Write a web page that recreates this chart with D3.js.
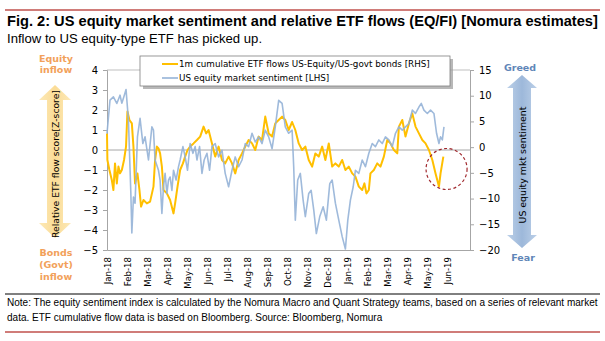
<!DOCTYPE html>
<html>
<head>
<meta charset="utf-8">
<script src="https://cdn.jsdelivr.net/npm/d3@7"></script>
<style>
  body { margin: 0; background: #fff; }
  svg { display: block; }
  text { font-family: "DejaVu Sans", Verdana, sans-serif; }
  .arial { font-family: "Liberation Sans", Arial, sans-serif; }
</style>
</head>
<body>
<svg id="chart" width="605" height="341"></svg>
<script>
// month labels on the date axis (Jan-18 = 0)
const months = ["Jan-18","Feb-18","Mar-18","Apr-18","May-18","Jun-18","Jul-18","Aug-18","Sep-18",
  "Oct-18","Nov-18","Dec-18","Jan-19","Feb-19","Mar-19","Apr-19","May-19","Jun-19"];
const leftTicks = [4, 3, 2, 1, 0, -1, -2, -3, -4, -5];
const rightTicks = [15, 10, 5, 0, -5, -10, -15, -20];

// ETF flow z-score (left scale), time in months since Jan-18
const flowT = [0,0.02,0.12,0.24,0.32,0.40,0.49,0.57,0.65,0.74,0.85,0.95,1.02,1.12,1.24,1.32,1.40,1.52,1.62,1.70,
  1.82,1.99,2.15,2.32,2.40,2.49,2.57,2.65,2.74,2.82,2.99,3.15,3.32,3.40,3.52,3.65,3.79,3.90,4.02,4.15,
  4.32,4.49,4.65,4.82,4.95,5.07,5.24,5.40,5.57,5.74,5.90,6.07,6.24,6.40,6.57,6.74,6.90,7.07,7.24,7.40,
  7.57,7.74,7.90,8.07,8.24,8.40,8.57,8.74,8.90,9.07,9.24,9.40,9.57,9.74,9.90,10.07,10.24,10.40,10.57,10.74,
  10.90,11.07,11.24,11.40,11.57,11.74,11.90,12.07,12.24,12.40,12.57,12.74,12.85,12.95,13.07,13.15,13.32,13.49,13.65,13.82,
  13.99,14.15,14.32,14.49,14.57,14.74,14.90,15.07,15.24,15.40,15.57,15.74,15.90,16.07,16.24,16.40,16.57,16.65,16.79];
const flowV = [0.83,-0.5,-1.0,-1.5,-2.0,-0.67,-1.67,-0.83,-1.17,-1.0,-0.5,0.17,1.92,1.5,1.33,0.17,-1.67,-1.17,-2.0,-2.83,
  -2.5,-2.67,-2.58,-1.83,-0.5,0.17,0.08,-0.17,-0.83,-2.0,-2.17,-2.5,-3.17,-2.67,-1.83,-1.0,-0.67,-0.33,0,0.17,
  0.33,0.5,0.67,1.17,0.83,1.0,0.33,-0.33,0.17,-0.5,-0.67,-0.33,-0.67,-1.17,-0.5,-0.17,0.17,0.5,0.33,0,
  0.67,0.5,1.67,0.83,0.67,1.33,1.5,1.67,1.5,1.0,1.4,1.0,0.33,0,0.17,-0.5,-0.83,-0.17,-0.33,0.17,
  -0.5,0.33,-0.83,-0.67,-0.83,-0.5,-1.0,-0.83,-1.17,-1.33,-1.83,-2.0,-1.67,-2.17,-2.0,-1.17,-1.0,-0.67,-0.83,-0.33,
  0.5,0.33,0,-0.17,1.17,1.5,0.67,1.33,1.83,1.17,0.83,0.5,0.33,0,-0.5,-1.17,-1.83,-1.17,-0.33];

// US equity market sentiment (right scale)
const sentT = [0,0.15,0.32,0.49,0.65,0.74,0.85,0.95,1.07,1.19,1.24,1.32,1.40,1.52,1.65,1.79,1.90,2.07,2.24,2.32,
  2.40,2.57,2.65,2.74,2.82,2.90,2.99,3.07,3.15,3.24,3.32,3.45,3.57,3.65,3.79,3.90,4.02,4.15,4.29,4.40,
  4.49,4.62,4.74,4.85,4.99,5.12,5.24,5.40,5.57,5.74,5.90,6.07,6.24,6.40,6.57,6.74,6.90,7.07,7.24,7.40,
  7.57,7.74,7.90,8.07,8.24,8.40,8.57,8.74,8.90,9.07,9.24,9.32,9.40,9.52,9.65,9.79,9.90,10.07,10.19,10.32,
  10.45,10.62,10.79,10.95,11.12,11.24,11.40,11.57,11.74,11.90,12.02,12.15,12.29,12.40,12.57,12.74,12.90,13.07,13.24,13.40,
  13.57,13.74,13.90,14.07,14.24,14.40,14.57,14.74,14.90,15.07,15.24,15.40,15.57,15.69,15.82,15.99,16.15,16.32,16.45,16.57,
  16.65,16.74,16.82];
const sentV = [2.66,9.14,9.78,8.5,10.1,8.55,9.9,11.2,5.25,-8.9,-16.7,-9.7,-10.9,2.0,5.6,0.7,2.0,-2.5,3.95,3.3,
  -2.5,-4.5,-6.4,-12.9,-7.7,-5.1,-9.0,-6.4,-5.8,-8.4,-4.5,-6.4,-3.8,-2.5,0.1,-1.9,-4.5,0.7,-1.2,0.1,
  -2.5,0.1,-5.1,-2.5,-1.2,-4.5,0.1,0.7,-1.9,-0.6,-5.1,-7.7,-4.5,-1.9,-3.8,-2.5,0.7,0.1,2.7,1.0,
  2.0,0.7,3.3,2.0,-0.3,3.95,9.1,8.5,3.95,2.7,3.3,-3.8,-14.2,-6.4,-5.1,-10.3,-13.5,-9.0,-8.4,-12.2,
  -16.8,-13.5,-11.6,-14.2,-7.1,-6.4,-10.9,-14.2,-17.4,-19.8,-14.2,-10.3,-7.7,-4.5,-5.1,-2.5,-3.8,-1.2,0.7,0.1,
  1.4,0.7,2.0,1.4,0.1,2.7,3.95,3.3,3.95,4.6,7.2,6.55,7.8,8.5,7.2,6.55,7.2,6.55,2.7,0.7,
  2.0,1.4,3.95];

const flow = flowT.slice(0, Math.min(flowT.length, flowV.length)).map((t, i) => ({ t: t, v: flowV[i] }));
const sent = sentT.slice(0, Math.min(sentT.length, sentV.length)).map((t, i) => ({ t: t, v: sentV[i] }));

const svg = d3.select("#chart");

const x = d3.scaleLinear().domain([0, 18.12]).range([107, 470]);
const yL = d3.scaleLinear().domain([-5, 4]).range([250, 70]);
const yR = d3.scaleLinear().domain([-20, 15]).range([250, 70]);

// shrink/grow a text so that it spans a given width
function fit(sel, target) {
  const w = sel.node().getComputedTextLength();
  const fs = parseFloat(sel.attr("font-size"));
  sel.attr("font-size", (fs * target / w).toFixed(2));
}

// header
svg.append("line").attr("x1", 5).attr("x2", 600).attr("y1", 10).attr("y2", 10)
  .attr("stroke", "#C0504D").attr("stroke-width", 1.3);
const title = svg.append("text").attr("class", "arial").attr("x", 7).attr("y", 26)
  .attr("font-size", 13).attr("font-weight", "bold").attr("fill", "#000")
  .text("Fig. 2: US equity market sentiment and relative ETF flows (EQ/FI) [Nomura estimates]");
fit(title, 591);
const sub = svg.append("text").attr("class", "arial").attr("x", 7).attr("y", 43)
  .attr("font-size", 11).attr("fill", "#000")
  .text("Inflow to US equity-type ETF has picked up.");
fit(sub, 255);

// arrows
function arrowPath(cx, y1, y2, sw, hw, hl) {
  return `M${cx},${y1}L${cx + hw},${y1 + hl}L${cx + sw},${y1 + hl}L${cx + sw},${y2 - hl}L${cx + hw},${y2 - hl}` +
    `L${cx},${y2}L${cx - hw},${y2 - hl}L${cx - sw},${y2 - hl}L${cx - sw},${y1 + hl}L${cx - hw},${y1 + hl}Z`;
}
const defs = svg.append("defs");
const gY = defs.append("linearGradient").attr("id", "gy").attr("x1", 0).attr("x2", 1).attr("y1", 0).attr("y2", 0);
gY.append("stop").attr("offset", "0%").attr("stop-color", "#FCE9B8");
gY.append("stop").attr("offset", "50%").attr("stop-color", "#FBDC96");
gY.append("stop").attr("offset", "100%").attr("stop-color", "#FCE9B8");
const gB = defs.append("linearGradient").attr("id", "gb").attr("x1", 0).attr("x2", 1).attr("y1", 0).attr("y2", 0);
gB.append("stop").attr("offset", "0%").attr("stop-color", "#BCD0E8");
gB.append("stop").attr("offset", "50%").attr("stop-color", "#9DB8DA");
gB.append("stop").attr("offset", "100%").attr("stop-color", "#BCD0E8");

svg.append("path").attr("d", arrowPath(55, 85, 238, 8, 16, 15)).attr("fill", "url(#gy)");
svg.append("path").attr("d", arrowPath(522, 75, 248, 9, 15, 13)).attr("fill", "url(#gb)");

const lt = svg.append("text").attr("transform", "translate(59,164) rotate(-90)")
  .attr("text-anchor", "middle").attr("font-size", 10).attr("fill", "#000")
  .text("Relative ETF flow score[Z-score]");
fit(lt, 148);
const rt = svg.append("text").attr("transform", "translate(526,165) rotate(-90)")
  .attr("text-anchor", "middle").attr("font-size", 10).attr("fill", "#000")
  .text("US equity mkt sentiment");
fit(rt, 117);

const orangeLbl = "#F2A15A", blueLbl = "#5F86B8";
[["Equity", 62], ["inflow", 73], ["Bonds", 256], ["(Govt)", 268], ["inflow", 280]].forEach(d => {
  svg.append("text").attr("x", 56).attr("y", d[1]).attr("text-anchor", "middle")
    .attr("font-size", 9.5).attr("font-weight", "bold").attr("fill", orangeLbl).text(d[0]);
});
svg.append("text").attr("x", 520).attr("y", 71).attr("text-anchor", "middle")
  .attr("font-size", 9.5).attr("font-weight", "bold").attr("fill", blueLbl).text("Greed");
svg.append("text").attr("x", 523).attr("y", 261).attr("text-anchor", "middle")
  .attr("font-size", 9.5).attr("font-weight", "bold").attr("fill", blueLbl).text("Fear");

// plot frame
svg.append("line").attr("x1", 107).attr("x2", 470).attr("y1", 70).attr("y2", 70).attr("stroke", "#BFBFBF");

// axes
const axL = svg.append("g").attr("transform", "translate(107,0)")
  .call(d3.axisLeft(yL).tickValues(leftTicks).tickSize(4).tickPadding(5));
const axR = svg.append("g").attr("transform", "translate(470,0)")
  .call(d3.axisRight(yR).tickValues(rightTicks).tickSize(4).tickPadding(5));
const axB = svg.append("g").attr("transform", "translate(0,250)")
  .call(d3.axisBottom(x).tickValues(months.map((m, i) => i)).tickSize(0).tickFormat(i => months[i]));
[axL, axR, axB].forEach(a => {
  a.select(".domain").attr("stroke", "#A6A6A6");
  a.selectAll(".tick line").attr("stroke", "#A6A6A6");
  a.selectAll("text").attr("font-size", 10).attr("fill", "#000").attr("font-family", '"DejaVu Sans", Verdana, sans-serif');
});
axB.selectAll("text")
  .attr("transform", "rotate(-90)").attr("x", -7).attr("y", 0).attr("dy", "0.35em")
  .attr("text-anchor", "end").attr("font-size", 8.6);

// zero line
svg.append("line").attr("x1", 107).attr("x2", 470).attr("y1", yL(0)).attr("y2", yL(0))
  .attr("stroke", "#A6A6A6").attr("stroke-width", 1);

// series
const lineL = d3.line().x(d => x(d.t)).y(d => yL(d.v));
const lineR = d3.line().x(d => x(d.t)).y(d => yR(d.v));
svg.append("path").datum(flow).attr("d", lineL).attr("fill", "none")
  .attr("stroke", "#FFBF00").attr("stroke-width", 2).attr("stroke-linejoin", "round");
svg.append("path").datum(sent).attr("d", lineR).attr("fill", "none")
  .attr("stroke", "#95B3D7").attr("stroke-width", 1.6).attr("stroke-linejoin", "round").attr("opacity", 0.9);

// highlight circle
svg.append("circle").attr("cx", x(16.95)).attr("cy", yL(-0.95)).attr("r", 20.5)
  .attr("fill", "none").attr("stroke", "#A0282D").attr("stroke-width", 1.2).attr("stroke-dasharray", "3,2.5");

// legend
svg.append("rect").attr("x", 143).attr("y", 59).attr("width", 310).attr("height", 30).attr("fill", "#9A9A9A").attr("opacity", 0.7);
svg.append("rect").attr("x", 140).attr("y", 56).attr("width", 310).attr("height", 30)
  .attr("fill", "#fff").attr("stroke", "#7F7F7F").attr("stroke-width", 0.8);
const legItems = [["1m cumulative ETF flows US-Equity/US-govt bonds [RHS]", "#FFBF00", 2], ["US equity market sentiment [LHS]", "#95B3D7", 1.6]];
let legFs = 9;
legItems.forEach((d, i) => {
  const yy = 64 + i * 14;
  svg.append("line").attr("x1", 162).attr("x2", 178).attr("y1", yy).attr("y2", yy)
    .attr("stroke", d[1]).attr("stroke-width", d[2]);
  const t = svg.append("text").attr("x", 179).attr("y", yy).attr("dy", "0.35em")
    .attr("font-size", legFs).attr("fill", "#000").text(d[0]);
  if (i === 0) { fit(t, 251); legFs = +t.attr("font-size"); }
});

// footer
svg.append("line").attr("x1", 5).attr("x2", 600).attr("y1", 294).attr("y2", 294)
  .attr("stroke", "#000").attr("stroke-width", 1);
const n1 = svg.append("text").attr("class", "arial").attr("x", 7).attr("y", 306).attr("font-size", 10).attr("fill", "#000")
  .text("Note: The equity sentiment index is calculated by the Nomura Macro and Quant Strategy teams, based on a series of relevant market");
fit(n1, 591);
svg.append("text").attr("class", "arial").attr("x", 7).attr("y", 321).attr("font-size", n1.attr("font-size")).attr("fill", "#000")
  .text("data. ETF cumulative flow data is based on Bloomberg. Source: Bloomberg, Nomura");
svg.append("line").attr("x1", 5).attr("x2", 600).attr("y1", 332).attr("y2", 332)
  .attr("stroke", "#C0504D").attr("stroke-width", 1.3);
</script>
</body>
</html>
